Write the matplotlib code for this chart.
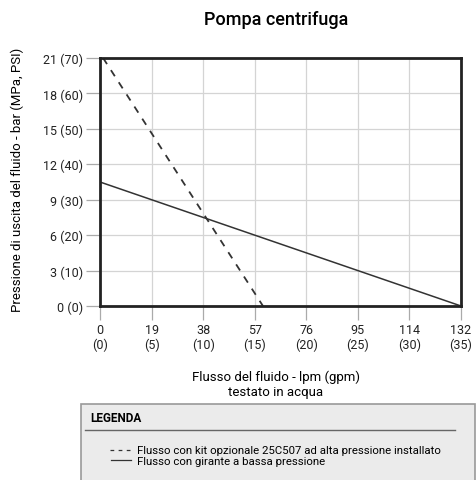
import matplotlib
matplotlib.use("Agg")
import matplotlib.pyplot as plt
from matplotlib import font_manager as fm
from matplotlib.patches import Rectangle
from matplotlib.lines import Line2D

names = {f.name for f in fm.fontManager.ttflist}
FONT = "Liberation Sans Narrow" if "Liberation Sans Narrow" in names else "Roboto"
plt.rcParams['font.family'] = [FONT, 'DejaVu Sans']

# Data (x in gpm, y in psi)
x_ticks_gpm = [0, 5, 10, 15, 20, 25, 30, 35]
x_tick_labels = ["0\n(0)", "19\n(5)", "38\n(10)", "57\n(15)", "76\n(20)", "95\n(25)", "114\n(30)", "132\n(35)"]
y_ticks_psi = [0, 10, 20, 30, 40, 50, 60, 70]
y_tick_labels = ["0 (0)", "3 (10)", "6 (20)", "9 (30)", "12 (40)", "15 (50)", "18 (60)", "21 (70)"]
dashed_x = [0.3, 15.8]
dashed_y = [70, 0]
solid_x = [0, 35]
solid_y = [35, 0]

fig = plt.figure(figsize=(4.76, 4.81), dpi=100)
ax = fig.add_axes([100/476, 1-307/481, 361/476, 248/481])
ax.plot(dashed_x, dashed_y, color="#333333", lw=1.3, ls=(0, (4, 4)))
ax.plot(solid_x, solid_y, color="#333333", lw=1.1)
ax.set_xlim(0, 35)
ax.set_ylim(0, 70)
ax.set_xticks(x_ticks_gpm)
ax.set_xticklabels(x_tick_labels, fontsize=9, color="#222222")
ax.set_yticks(y_ticks_psi)
ax.set_yticklabels(y_tick_labels, fontsize=9, color="#222222")
ax.grid(True, color="#d4d4d4", lw=0.9)
ax.set_axisbelow(True)
ax.tick_params(length=10, color="#aaaaaa", width=0.9, pad=2)
for s in ax.spines.values():
    s.set_linewidth(2)
    s.set_color("#222222")

fig.text(276/476, 1-20/481, "Pompa centrifuga", ha="center", va="center", fontsize=13,
         fontweight="medium")
fig.text(17/476, 1-180/481, "Pressione di uscita del fluido - bar (MPa, PSI)", rotation=90,
         ha="center", va="center", fontsize=9.5)
fig.text(276/476, 1-377/481, "Flusso del fluido - lpm (gpm)", ha="center", va="center", fontsize=9.5)
fig.text(276/476, 1-393/481, "testato in acqua", ha="center", va="center", fontsize=9.5)

# Legend box
fig.patches.append(Rectangle((81/476, -0.02), (475-81)/476, (1-405/481)+0.02,
                             transform=fig.transFigure, facecolor="#ebebeb",
                             edgecolor="#999999", lw=1.2))
fig.text(90/476, 1-418/481, "LEGENDA", ha="left", va="center", fontsize=8.5, fontweight="bold")
fig.lines.append(Line2D([85/476, 455/476], [1-431/481, 1-431/481], transform=fig.transFigure,
                        color="#666666", lw=1))
fig.lines.append(Line2D([110/476, 131/476], [1-451/481, 1-451/481], transform=fig.transFigure,
                        color="#333333", lw=0.9, ls=(0, (3, 3.5))))
fig.text(137/476, 1-451/481, "Flusso con kit opzionale 25C507 ad alta pressione installato",
         ha="left", va="center", fontsize=8.2)
fig.lines.append(Line2D([111/476, 131/476], [1-461/481, 1-461/481], transform=fig.transFigure,
                        color="#333333", lw=0.9))
fig.text(137/476, 1-462/481, "Flusso con girante a bassa pressione",
         ha="left", va="center", fontsize=8.2)

fig.savefig("out.png", dpi=100)
